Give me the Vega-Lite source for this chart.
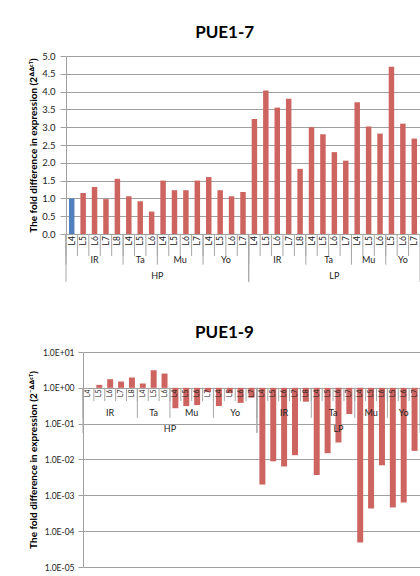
{
  "$schema": "https://vega.github.io/schema/vega-lite/v6.json",
  "background": "white",
  "padding": {"top": 24, "left": 21, "right": 0, "bottom": 0},
  "config": {
    "font": "Lato",
    "view": {"stroke": null},
    "title": {"fontSize": 17, "fontWeight": "bold", "color": "#000000", "anchor": "middle", "frame": "bounds", "offset": 9},
    "axisY": {"grid": true, "gridColor": "#a0a0a0", "domainColor": "#a0a0a0", "tickColor": "#a0a0a0", "labelColor": "#222222", "labelOverlap": false, "minExtent": 0, "titleFontSize": 10, "titleFontWeight": "bold", "titleColor": "#000000"}
  },
  "datasets": {
    "bars": [
      {"grp": "HP", "sub": "IR", "lv": "L4", "key": "HP IR L4", "pue7": 1.00, "pue9": 1.0},
      {"grp": "HP", "sub": "IR", "lv": "L5", "key": "HP IR L5", "pue7": 1.15, "pue9": 1.21},
      {"grp": "HP", "sub": "IR", "lv": "L6", "key": "HP IR L6", "pue7": 1.32, "pue9": 1.74},
      {"grp": "HP", "sub": "IR", "lv": "L7", "key": "HP IR L7", "pue7": 0.98, "pue9": 1.5},
      {"grp": "HP", "sub": "IR", "lv": "L8", "key": "HP IR L8", "pue7": 1.55, "pue9": 1.94},
      {"grp": "HP", "sub": "Ta", "lv": "L4", "key": "HP Ta L4", "pue7": 1.06, "pue9": 1.32},
      {"grp": "HP", "sub": "Ta", "lv": "L5", "key": "HP Ta L5", "pue7": 0.92, "pue9": 3.1},
      {"grp": "HP", "sub": "Ta", "lv": "L6", "key": "HP Ta L6", "pue7": 0.63, "pue9": 2.5},
      {"grp": "HP", "sub": "Mu", "lv": "L4", "key": "HP Mu L4", "pue7": 1.50, "pue9": 0.27},
      {"grp": "HP", "sub": "Mu", "lv": "L5", "key": "HP Mu L5", "pue7": 1.23, "pue9": 0.31},
      {"grp": "HP", "sub": "Mu", "lv": "L6", "key": "HP Mu L6", "pue7": 1.23, "pue9": 0.33},
      {"grp": "HP", "sub": "Mu", "lv": "L7", "key": "HP Mu L7", "pue7": 1.50, "pue9": 0.76},
      {"grp": "HP", "sub": "Yo", "lv": "L4", "key": "HP Yo L4", "pue7": 1.60, "pue9": 0.31},
      {"grp": "HP", "sub": "Yo", "lv": "L5", "key": "HP Yo L5", "pue7": 1.23, "pue9": 0.71},
      {"grp": "HP", "sub": "Yo", "lv": "L6", "key": "HP Yo L6", "pue7": 1.06, "pue9": 0.38},
      {"grp": "HP", "sub": "Yo", "lv": "L7", "key": "HP Yo L7", "pue7": 1.18, "pue9": 0.53},
      {"grp": "LP", "sub": "IR", "lv": "L4", "key": "LP IR L4", "pue7": 3.23, "pue9": 0.0020},
      {"grp": "LP", "sub": "IR", "lv": "L5", "key": "LP IR L5", "pue7": 4.03, "pue9": 0.0089},
      {"grp": "LP", "sub": "IR", "lv": "L6", "key": "LP IR L6", "pue7": 3.55, "pue9": 0.0064},
      {"grp": "LP", "sub": "IR", "lv": "L7", "key": "LP IR L7", "pue7": 3.80, "pue9": 0.0132},
      {"grp": "LP", "sub": "IR", "lv": "L8", "key": "LP IR L8", "pue7": 1.83, "pue9": 0.41},
      {"grp": "LP", "sub": "Ta", "lv": "L4", "key": "LP Ta L4", "pue7": 3.00, "pue9": 0.0037},
      {"grp": "LP", "sub": "Ta", "lv": "L5", "key": "LP Ta L5", "pue7": 2.80, "pue9": 0.015},
      {"grp": "LP", "sub": "Ta", "lv": "L6", "key": "LP Ta L6", "pue7": 2.30, "pue9": 0.030},
      {"grp": "LP", "sub": "Ta", "lv": "L7", "key": "LP Ta L7", "pue7": 2.06, "pue9": 0.185},
      {"grp": "LP", "sub": "Mu", "lv": "L4", "key": "LP Mu L4", "pue7": 3.70, "pue9": 0.000048},
      {"grp": "LP", "sub": "Mu", "lv": "L5", "key": "LP Mu L5", "pue7": 3.02, "pue9": 0.00043},
      {"grp": "LP", "sub": "Mu", "lv": "L6", "key": "LP Mu L6", "pue7": 2.82, "pue9": 0.0069},
      {"grp": "LP", "sub": "Yo", "lv": "L5", "key": "LP Yo L5", "pue7": 4.70, "pue9": 0.00046},
      {"grp": "LP", "sub": "Yo", "lv": "L6", "key": "LP Yo L6", "pue7": 3.10, "pue9": 0.00063},
      {"grp": "LP", "sub": "Yo", "lv": "L7", "key": "LP Yo L7", "pue7": 2.68, "pue9": 0.0174}
    ],
    "subs": [
      {"grp": "HP", "sub": "IR", "n": 5, "startKey": "HP IR L4", "midKey": "HP IR L6"},
      {"grp": "HP", "sub": "Ta", "n": 3, "startKey": "HP Ta L4", "midKey": "HP Ta L5"},
      {"grp": "HP", "sub": "Mu", "n": 4, "startKey": "HP Mu L4", "midKey": "HP Mu L6"},
      {"grp": "HP", "sub": "Yo", "n": 4, "startKey": "HP Yo L4", "midKey": "HP Yo L6"},
      {"grp": "LP", "sub": "IR", "n": 5, "startKey": "LP IR L4", "midKey": "LP IR L6"},
      {"grp": "LP", "sub": "Ta", "n": 4, "startKey": "LP Ta L4", "midKey": "LP Ta L6"},
      {"grp": "LP", "sub": "Mu", "n": 3, "startKey": "LP Mu L4", "midKey": "LP Mu L5"},
      {"grp": "LP", "sub": "Yo", "n": 3, "startKey": "LP Yo L5", "midKey": "LP Yo L6"}
    ],
    "grps": [
      {"grp": "HP", "n": 16, "startKey": "HP IR L4", "midKey": "HP Mu L4", "endKey": "HP Yo L7"},
      {"grp": "LP", "n": 15, "startKey": "LP IR L4", "midKey": "LP Ta L6", "endKey": "LP Yo L7"}
    ]
  },
  "vconcat": [
    {
      "spacing": 0,
      "hconcat": [
        {"width": 1, "height": 1, "data": {"values": [{}]}, "mark": {"type": "point", "opacity": 0}},
        {
          "width": 354,
          "height": 178,
          "title": {"text": "PUE1-7"},
          "resolve": {"axis": {"y": "independent"}},
          "layer": [
            {
              "data": {"name": "bars"},
              "mark": {"type": "bar", "width": {"band": 0.48}},
              "encoding": {
                "x": {"field": "key", "type": "nominal", "axis": null,
                  "scale": {"paddingInner": 0, "paddingOuter": 0, "domain": ["HP IR L4","HP IR L5","HP IR L6","HP IR L7","HP IR L8","HP Ta L4","HP Ta L5","HP Ta L6","HP Mu L4","HP Mu L5","HP Mu L6","HP Mu L7","HP Yo L4","HP Yo L5","HP Yo L6","HP Yo L7","LP IR L4","LP IR L5","LP IR L6","LP IR L7","LP IR L8","LP Ta L4","LP Ta L5","LP Ta L6","LP Ta L7","LP Mu L4","LP Mu L5","LP Mu L6","LP Yo L5","LP Yo L6","LP Yo L7"]}},
                "y": {"field": "pue7", "type": "quantitative", "scale": {"domain": [0, 5], "nice": false},
                  "axis": {"values": [0, 0.5, 1, 1.5, 2, 2.5, 3, 3.5, 4, 4.5, 5], "format": ".1f", "labelFontSize": 9.5, "tickSize": 6, "labelPadding": 5, "titlePadding": 3, "title": "The fold difference in expression (2ᐞᐞᶜᵀ)"}},
                "color": {"condition": {"test": "datum.key === 'HP IR L4'", "value": "#4F81BD"}, "value": "#CD645F"}
              }
            },
            {
              "data": {"name": "bars"},
              "mark": {"type": "rule", "color": "#a6a6a6", "strokeWidth": 1},
              "encoding": {"x": {"field": "key", "type": "nominal", "bandPosition": 0, "axis": null}, "y": {"datum": 0, "axis": null}, "y2": {"datum": -0.62}}
            },
            {
              "data": {"name": "subs"},
              "mark": {"type": "rule", "color": "#a6a6a6", "strokeWidth": 1},
              "encoding": {"x": {"field": "startKey", "type": "nominal", "bandPosition": 0, "axis": null}, "y": {"datum": 0, "axis": null}, "y2": {"datum": -0.86}}
            },
            {
              "data": {"name": "grps"},
              "mark": {"type": "rule", "color": "#a6a6a6", "strokeWidth": 1},
              "encoding": {"x": {"field": "startKey", "type": "nominal", "bandPosition": 0, "axis": null}, "y": {"datum": 0, "axis": null}, "y2": {"datum": -1.34}}
            },
            {
              "data": {"name": "grps"},
              "mark": {"type": "rule", "color": "#a6a6a6", "strokeWidth": 1},
              "encoding": {"x": {"field": "endKey", "type": "nominal", "bandPosition": 1, "axis": null}, "y": {"datum": 0, "axis": null}, "y2": {"datum": -1.34}}
            },
            {
              "data": {"name": "bars"},
              "mark": {"type": "text", "angle": 270, "align": "right", "baseline": "middle", "fontSize": 8.5, "color": "#222222"},
              "encoding": {"x": {"field": "key", "type": "nominal", "bandPosition": 0.5, "axis": null}, "y": {"datum": -0.06, "axis": null}, "text": {"field": "lv"}}
            },
            {
              "data": {"name": "subs"},
              "transform": [{"filter": "datum.n % 2 == 1"}],
              "mark": {"type": "text", "baseline": "middle", "fontSize": 9, "color": "#222222"},
              "encoding": {"x": {"field": "midKey", "type": "nominal", "bandPosition": 0.5, "axis": null}, "y": {"datum": -0.74, "axis": null}, "text": {"field": "sub"}}
            },
            {
              "data": {"name": "subs"},
              "transform": [{"filter": "datum.n % 2 == 0"}],
              "mark": {"type": "text", "baseline": "middle", "fontSize": 9, "color": "#222222"},
              "encoding": {"x": {"field": "midKey", "type": "nominal", "bandPosition": 0, "axis": null}, "y": {"datum": -0.74, "axis": null}, "text": {"field": "sub"}}
            },
            {
              "data": {"name": "grps"},
              "transform": [{"filter": "datum.n % 2 == 1"}],
              "mark": {"type": "text", "baseline": "middle", "fontSize": 9, "color": "#222222"},
              "encoding": {"x": {"field": "midKey", "type": "nominal", "bandPosition": 0.5, "axis": null}, "y": {"datum": -1.19, "axis": null}, "text": {"field": "grp"}}
            },
            {
              "data": {"name": "grps"},
              "transform": [{"filter": "datum.n % 2 == 0"}],
              "mark": {"type": "text", "baseline": "middle", "fontSize": 9, "color": "#222222"},
              "encoding": {"x": {"field": "midKey", "type": "nominal", "bandPosition": 0, "axis": null}, "y": {"datum": -1.19, "axis": null}, "text": {"field": "grp"}}
            }
          ]
        }
      ]
    },
    {
      "spacing": 0,
      "hconcat": [
        {"width": 1, "height": 1, "data": {"values": [{}]}, "mark": {"type": "point", "opacity": 0}},
        {
          "width": 337,
          "height": 215,
          "title": {"text": "PUE1-9", "offset": 6},
          "resolve": {"axis": {"y": "independent"}},
          "layer": [
            {
              "data": {"name": "bars"},
              "mark": {"type": "bar", "width": {"band": 0.55}},
              "encoding": {
                "x": {"field": "key", "type": "nominal", "axis": null,
                  "scale": {"paddingInner": 0, "paddingOuter": 0, "domain": ["HP IR L4","HP IR L5","HP IR L6","HP IR L7","HP IR L8","HP Ta L4","HP Ta L5","HP Ta L6","HP Mu L4","HP Mu L5","HP Mu L6","HP Mu L7","HP Yo L4","HP Yo L5","HP Yo L6","HP Yo L7","LP IR L4","LP IR L5","LP IR L6","LP IR L7","LP IR L8","LP Ta L4","LP Ta L5","LP Ta L6","LP Ta L7","LP Mu L4","LP Mu L5","LP Mu L6","LP Yo L5","LP Yo L6","LP Yo L7"]}},
                "y": {"field": "pue9", "type": "quantitative", "scale": {"type": "log", "domain": [0.00001, 10], "nice": false},
                  "axis": {"values": [0.00001, 0.0001, 0.001, 0.01, 0.1, 1, 10], "labelExpr": "'1.0E' + (datum.value >= 1 ? '+' : '-') + '0' + abs(round(log(datum.value) / LN10))", "labelFontSize": 8.5, "tickSize": 5, "labelPadding": 4, "titlePadding": 4, "title": "The fold difference in expression (2⁻ᐞᐞᶜᵀ)"}},
                "y2": {"datum": 1},
                "color": {"value": "#CD645F"}
              }
            },
            {
              "data": {"name": "bars"},
              "mark": {"type": "rule", "color": "#a6a6a6", "strokeWidth": 1},
              "encoding": {"x": {"field": "key", "type": "nominal", "bandPosition": 0, "axis": null}, "y": {"datum": 1, "axis": null}, "y2": {"datum": 0.425}}
            },
            {
              "data": {"name": "subs"},
              "mark": {"type": "rule", "color": "#a6a6a6", "strokeWidth": 1},
              "encoding": {"x": {"field": "startKey", "type": "nominal", "bandPosition": 0, "axis": null}, "y": {"datum": 1, "axis": null}, "y2": {"datum": 0.145}}
            },
            {
              "data": {"name": "grps"},
              "mark": {"type": "rule", "color": "#a6a6a6", "strokeWidth": 1},
              "encoding": {"x": {"field": "startKey", "type": "nominal", "bandPosition": 0, "axis": null}, "y": {"datum": 1, "axis": null}, "y2": {"datum": 0.055}}
            },
            {
              "data": {"name": "grps"},
              "mark": {"type": "rule", "color": "#a6a6a6", "strokeWidth": 1},
              "encoding": {"x": {"field": "endKey", "type": "nominal", "bandPosition": 1, "axis": null}, "y": {"datum": 1, "axis": null}, "y2": {"datum": 0.055}}
            },
            {
              "data": {"name": "bars"},
              "mark": {"type": "text", "angle": 270, "align": "right", "baseline": "middle", "fontSize": 7, "color": "#222222"},
              "encoding": {"x": {"field": "key", "type": "nominal", "bandPosition": 0.5, "axis": null}, "y": {"datum": 0.9, "axis": null}, "text": {"field": "lv"}}
            },
            {
              "data": {"name": "subs"},
              "transform": [{"filter": "datum.n % 2 == 1"}],
              "mark": {"type": "text", "baseline": "middle", "fontSize": 9, "color": "#222222"},
              "encoding": {"x": {"field": "midKey", "type": "nominal", "bandPosition": 0.5, "axis": null}, "y": {"datum": 0.2, "axis": null}, "text": {"field": "sub"}}
            },
            {
              "data": {"name": "subs"},
              "transform": [{"filter": "datum.n % 2 == 0"}],
              "mark": {"type": "text", "baseline": "middle", "fontSize": 9, "color": "#222222"},
              "encoding": {"x": {"field": "midKey", "type": "nominal", "bandPosition": 0, "axis": null}, "y": {"datum": 0.2, "axis": null}, "text": {"field": "sub"}}
            },
            {
              "data": {"name": "grps"},
              "transform": [{"filter": "datum.n % 2 == 1"}],
              "mark": {"type": "text", "baseline": "middle", "fontSize": 9, "color": "#222222"},
              "encoding": {"x": {"field": "midKey", "type": "nominal", "bandPosition": 0.5, "axis": null}, "y": {"datum": 0.07, "axis": null}, "text": {"field": "grp"}}
            },
            {
              "data": {"name": "grps"},
              "transform": [{"filter": "datum.n % 2 == 0"}],
              "mark": {"type": "text", "baseline": "middle", "fontSize": 9, "color": "#222222"},
              "encoding": {"x": {"field": "midKey", "type": "nominal", "bandPosition": 0, "axis": null}, "y": {"datum": 0.07, "axis": null}, "text": {"field": "grp"}}
            }
          ]
        }
      ]
    }
  ],
  "spacing": 41
}
